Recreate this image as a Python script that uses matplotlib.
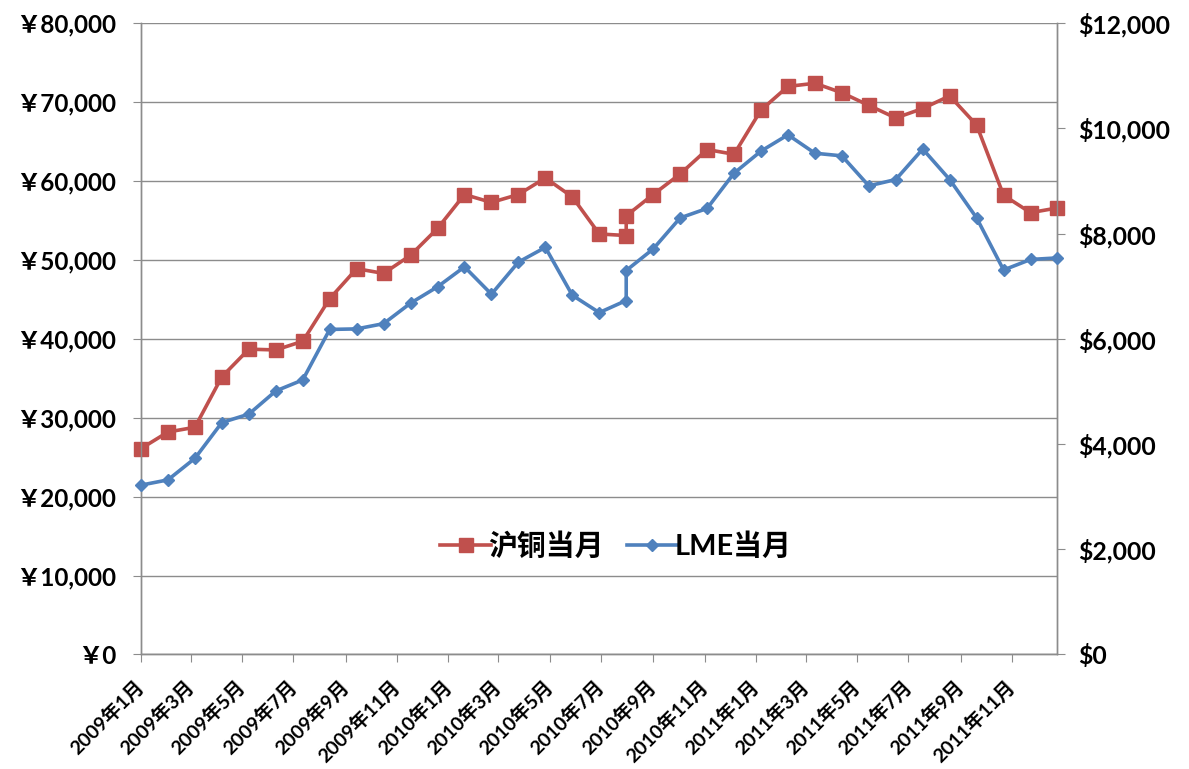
import matplotlib
matplotlib.use("Agg")
import matplotlib.pyplot as plt
import matplotlib.dates as mdates
import matplotlib.ticker as mticker
import pandas as pd

# ---- data ----
dates = ["2009-01-01", "2009-02-02", "2009-03-06", "2009-04-07", "2009-05-09", "2009-06-10",
         "2009-07-12", "2009-08-13", "2009-09-14", "2009-10-16", "2009-11-17", "2009-12-19",
         "2010-01-20", "2010-02-21", "2010-03-25", "2010-04-26", "2010-05-28", "2010-06-29",
         "2010-07-31", "2010-07-31", "2010-09-01", "2010-10-03", "2010-11-04", "2010-12-06",
         "2011-01-07", "2011-02-08", "2011-03-12", "2011-04-13", "2011-05-15", "2011-06-16",
         "2011-07-18", "2011-08-19", "2011-09-20", "2011-10-22", "2011-11-23", "2011-12-25"]
shfe_cny = [26100, 28200, 28800, 35200, 38700, 38600, 39700, 45100, 48900, 48300, 50600, 54000,
            58300, 57300, 58300, 60400, 58000, 53300, 53100, 55600, 58300, 60900, 64000, 63400,
            69000, 72000, 72400, 71200, 69600, 68000, 69200, 70800, 67100, 58200, 56000, 56600]
lme_usd = [3220, 3320, 3730, 4410, 4570, 5010, 5220, 6180, 6190, 6290, 6680, 6990,
           7370, 6850, 7460, 7740, 6830, 6500, 6730, 7300, 7710, 8300, 8480, 9150,
           9570, 9880, 9530, 9480, 8910, 9030, 9610, 9030, 8300, 7310, 7510, 7540]
series_names = ["沪铜当月", "LME当月"]
left_ticks = [0, 10000, 20000, 30000, 40000, 50000, 60000, 70000, 80000]
right_ticks = [0, 2000, 4000, 6000, 8000, 10000, 12000]

x = pd.to_datetime(dates)

RED = "#C0504D"
BLUE = "#4F81BD"
GRID = "#8C8C8C"
FONT = ["Lato", "Noto Sans CJK SC", "DejaVu Sans"]

fig = plt.figure(figsize=(11.89, 7.69), dpi=100)
ax = fig.add_axes([0.1186, 0.1489, 0.7708, 0.8208])
ax2 = ax.twinx()

l1, = ax.plot(x, shfe_cny, color=RED, lw=2.6, marker="s", ms=10, mfc=RED, mec=RED,
              label=series_names[0], zorder=3, clip_on=False)
l2, = ax2.plot(x, lme_usd, color=BLUE, lw=2.6, marker="D", ms=6.5, mfc=BLUE, mec=BLUE,
               label=series_names[1], zorder=3, clip_on=False)

ax.set_xlim(x[0], x[-1])
ax.set_ylim(0, 80000)
ax2.set_ylim(0, 12000)
ax.set_yticks(left_ticks)
ax2.set_yticks(right_ticks)
ax.yaxis.set_major_formatter(mticker.FuncFormatter(lambda v, p: "￥" + format(int(v), ",")))
ax2.yaxis.set_major_formatter(mticker.FuncFormatter(lambda v, p: "$" + format(int(v), ",")))

ax.xaxis.set_major_locator(mdates.MonthLocator(bymonth=[1, 3, 5, 7, 9, 11]))
ax.xaxis.set_major_formatter(mticker.FuncFormatter(
    lambda v, p: "{}年{}月".format(mdates.num2date(v).year, mdates.num2date(v).month)))

ax.grid(axis="y", color=GRID, lw=1.0)
ax.set_axisbelow(True)
for a in (ax, ax2):
    a.spines["top"].set_visible(False)
    for s in ("left", "right", "bottom"):
        a.spines[s].set_color(GRID)
        a.spines[s].set_linewidth(1.0)

ax.tick_params(axis="y", length=6, color=GRID, pad=12, labelsize=17.5)
ax2.tick_params(axis="y", length=6, color=GRID, pad=9, labelsize=17.8)
ax.tick_params(axis="x", length=6, color=GRID, pad=15, labelsize=14.0)
for lab in ax.get_yticklabels() + ax2.get_yticklabels():
    lab.set_fontfamily(FONT)
    lab.set_fontweight("bold")
for lab in ax.get_xticklabels():
    lab.set_fontfamily(FONT)
    lab.set_fontweight("bold")
    lab.set_rotation(45)
    lab.set_ha("right")
    lab.set_va("center")
    lab.set_rotation_mode("anchor")

leg = ax2.legend(handles=[l1, l2], loc="center", bbox_to_anchor=(0.518, 0.171), ncol=2,
                 frameon=False, handlelength=1.75, handletextpad=-0.1, columnspacing=0.8,
                 prop={"family": FONT, "weight": "bold", "size": 20.8})

fig.savefig("out.png", dpi=100, facecolor="white")
